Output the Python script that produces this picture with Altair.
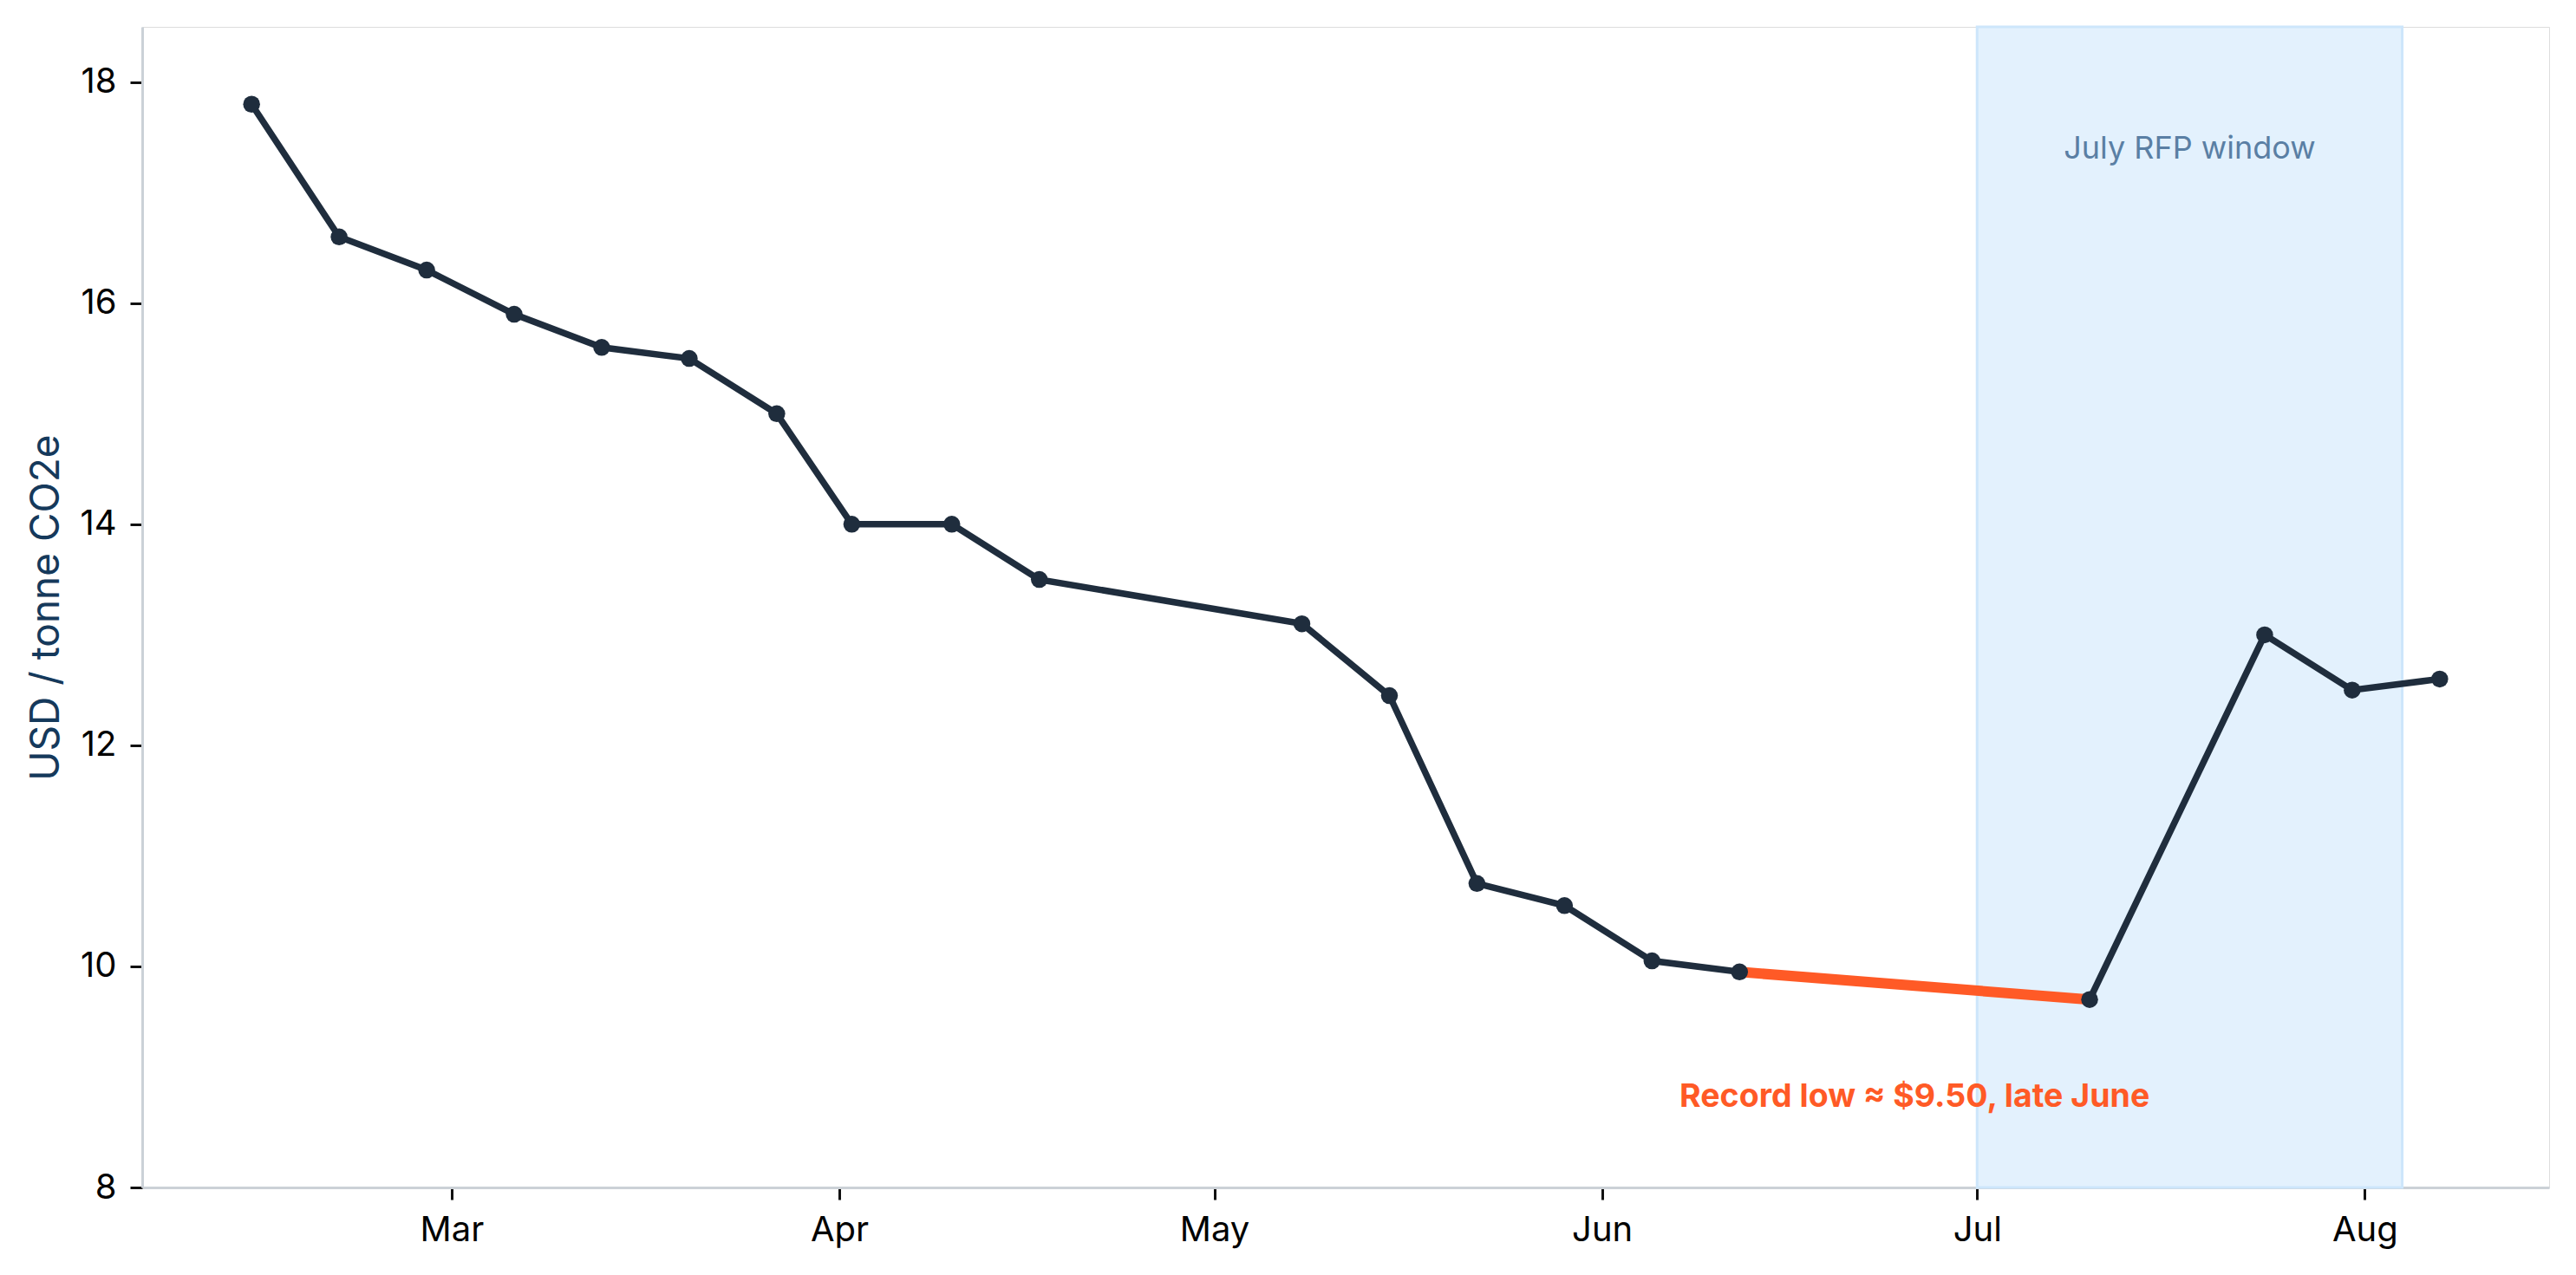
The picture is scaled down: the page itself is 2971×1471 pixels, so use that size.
import altair as alt
import pandas as pd

# ---- data ----
dates = ["2023-02-13", "2023-02-20", "2023-02-27", "2023-03-06", "2023-03-13",
         "2023-03-20", "2023-03-27", "2023-04-02", "2023-04-10", "2023-04-17",
         "2023-05-08", "2023-05-15", "2023-05-22", "2023-05-29", "2023-06-05",
         "2023-06-12", "2023-07-10", "2023-07-24", "2023-07-31", "2023-08-07"]
prices = [17.8, 16.6, 16.3, 15.9, 15.6,
          15.5, 15.0, 14.0, 14.0, 13.5,
          13.1, 12.45, 10.75, 10.55, 10.05,
          9.95, 9.7, 13.0, 12.5, 12.6]
highlight_dates = ["2023-06-12", "2023-07-10"]

month_ticks = ["2023-03-01", "2023-04-01", "2023-05-01",
               "2023-06-01", "2023-07-01", "2023-08-01"]
y_ticks = [8, 10, 12, 14, 16, 18]
x_domain = ["2023-02-04T06:00:00", "2023-08-15T18:00:00"]
y_domain = [8, 18.5]

band_start = "2023-07-01"
band_end = "2023-08-04"
band_label = "July RFP window"
band_label_date = "2023-07-18"
band_label_y = 17.31

note_text = "Record low \u2248 $9.50, late June"
note_date = "2023-06-26"
note_y = 8.73

y_title = "USD / tonne CO2e"

# ---- styling ----
W, H = 2776, 1339
FONT = "Inter"
DARK = "#1f2d3d"
ORANGE = "#ff5a26"


def local(s):
    t = pd.Timestamp(s)
    return t.strftime("%Y-%m-%dT%H:%M:%S")


def dt(s):
    t = pd.Timestamp(s)
    return alt.DateTime(year=t.year, month=t.month, date=t.day,
                        hours=t.hour, minutes=t.minute)


df = pd.DataFrame({"date": [local(d) for d in dates], "price": prices})
hl_df = df[df["date"].isin([local(d) for d in highlight_dates])]
band_df = pd.DataFrame({"start": [local(band_start)], "end": [local(band_end)],
                        "y0": [y_domain[0]], "y1": [y_domain[1]]})
band_text_df = pd.DataFrame({"date": [local(band_label_date)], "y": [band_label_y],
                             "label": [band_label]})
note_df = pd.DataFrame({"date": [local(note_date)], "y": [note_y], "label": [note_text]})

x_scale = alt.Scale(domain=[dt(d) for d in x_domain], nice=False)
y_scale = alt.Scale(domain=y_domain, nice=False, zero=False)

x_axis = alt.Axis(values=[dt(d) for d in month_ticks], format="%b", title=None,
                  grid=False, tickSize=14, tickWidth=3, tickColor="#111111",
                  labelFontSize=40, labelColor="#000000", labelPadding=15,
                  domainColor="#cbd1d7", domainWidth=3, labelFont=FONT)
y_axis = alt.Axis(values=y_ticks, title=y_title, grid=False, tickSize=14,
                  tickWidth=3, tickColor="#111111", labelFontSize=40,
                  labelColor="#000000", labelPadding=16, domainColor="#cbd1d7",
                  domainWidth=3, labelFont=FONT, titleFont=FONT,
                  titleFontSize=46, titleFontWeight="normal", titleColor="#15395b",
                  titleX=-97, titleY=H / 2, titleAngle=270, titleAlign="center",
                  titleBaseline="alphabetic")


def X(field):
    return alt.X(field, type="temporal", scale=x_scale, axis=x_axis)


def Y(field):
    return alt.Y(field, type="quantitative", scale=y_scale, axis=y_axis)


band = alt.Chart(band_df).mark_rect(
    fill="#e3f1fd", stroke="#cde6fb", strokeWidth=3
).encode(x=X("start"), x2="end", y=Y("y0"), y2="y1")

band_text = alt.Chart(band_text_df).mark_text(
    font=FONT, fontSize=36, color="#5a7fa4", align="center", baseline="alphabetic"
).encode(x=X("date"), y=Y("y"), text="label:N")

line = alt.Chart(df).mark_line(color=DARK, strokeWidth=7.5).encode(
    x=X("date"), y=Y("price"))

hl = alt.Chart(hl_df).mark_line(color=ORANGE, strokeWidth=12).encode(
    x=X("date"), y=Y("price"))

points = alt.Chart(df).mark_point(
    filled=True, color=DARK, size=380, opacity=1
).encode(x=X("date"), y=Y("price"))

note = alt.Chart(note_df).mark_text(
    font=FONT, fontSize=37.5, fontWeight="bold", color=ORANGE,
    align="center", baseline="alphabetic"
).encode(x=X("date"), y=Y("y"), text="label:N")

chart = alt.layer(band, band_text, line, hl, points, note).properties(
    width=W, height=H,
    autosize=alt.AutoSizeParams(type="none"),
    padding={"left": 156, "top": 23, "right": 15, "bottom": 80},
    background="white",
).configure_view(stroke=None).configure(font=FONT)

chart.save("out.html", embed_options={"renderer": "svg", "actions": False})
